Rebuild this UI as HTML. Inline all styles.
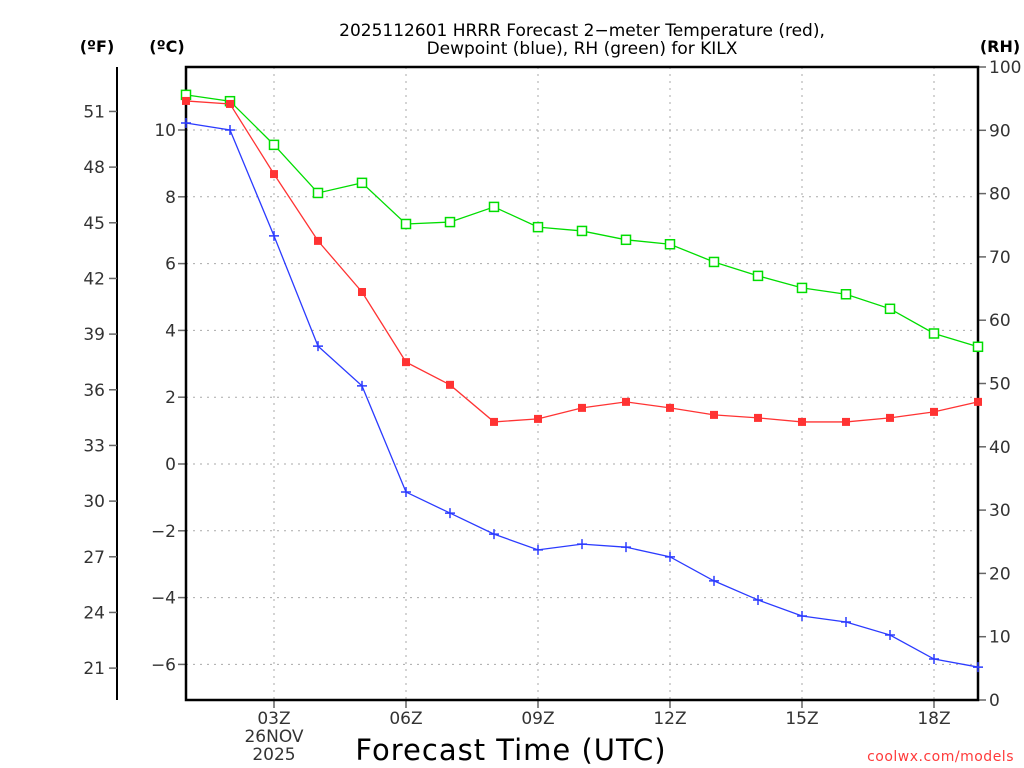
<!DOCTYPE html>
<html><head><meta charset="utf-8"><style>
body{margin:0;background:#fff;}
svg{display:block;font-family:"DejaVu Sans","Liberation Sans",sans-serif;}
</style></head><body>
<svg id="c" width="1024" height="768" viewBox="0 0 1024 768">
<text x="582" y="36" text-anchor="middle" font-size="17" fill="#000">2025112601 HRRR Forecast 2−meter Temperature (red),</text>
<text x="582" y="54" text-anchor="middle" font-size="17" fill="#000">Dewpoint (blue), RH (green) for KILX</text>
<text x="97" y="52" text-anchor="middle" font-size="16" font-weight="bold">(ºF)</text>
<text x="167" y="52" text-anchor="middle" font-size="16" font-weight="bold">(ºC)</text>
<text x="1000" y="52" text-anchor="middle" font-size="16" font-weight="bold">(RH)</text>
<text x="511" y="760" text-anchor="middle" font-size="29" letter-spacing="1">Forecast Time (UTC)</text>
<text x="1014" y="761" text-anchor="end" font-size="14" fill="#ff3b3b" letter-spacing="0.5">coolwx.com/models</text>
<g id="g"></g>
</svg>
<script>
const hours=[1,2,3,4,5,6,7,8,9,10,11,12,13,14,15,16,17,18,19];
const tempC=[10.87,10.78,8.68,6.68,5.15,3.05,2.37,1.26,1.35,1.68,1.86,1.68,1.47,1.38,1.26,1.26,1.38,1.56,1.86];
const dewC=[10.21,10.0,6.83,3.53,2.34,-0.84,-1.47,-2.10,-2.57,-2.40,-2.49,-2.78,-3.50,-4.07,-4.55,-4.73,-5.12,-5.84,-6.08];
const rh=[95.6,94.6,87.7,80.1,81.7,75.2,75.5,77.9,74.7,74.1,72.7,72.0,69.2,67.0,65.1,64.1,61.8,57.9,55.8];
const cTicks=[-6,-4,-2,0,2,4,6,8,10];
const fTicks=[21,24,27,30,33,36,39,42,45,48,51];
const rhTicks=[0,10,20,30,40,50,60,70,80,90,100];
const xTicks=[3,6,9,12,15,18];
const xLabels=["03Z","06Z","09Z","12Z","15Z","18Z"];

const L=186,R=978,T=67,B=700;
const x=h=>L+(h-1)*(R-L)/18;
const yC=c=>464-c*33.4;
const yF=f=>yC((f-32)/1.8);
const yR=r=>B-r*(B-T)/100;
const g=document.getElementById('g');
const NS='http://www.w3.org/2000/svg';
function mk(t,a,p){const e=document.createElementNS(NS,t);for(const k in a)e.setAttribute(k,a[k]);(p||g).appendChild(e);return e;}

cTicks.forEach(c=>{
 const l=mk('line',{x1:L,x2:R,y1:yC(c),y2:yC(c),stroke:'#aaa','stroke-dasharray':'2,5'});
 
 
 mk('line',{x1:L-8,x2:L,y1:yC(c),y2:yC(c),stroke:'#666','stroke-width':1.5});
 const t=mk('text',{x:L-10,y:yC(c)+6,'text-anchor':'end','font-size':17,fill:'#333'});
 t.textContent=c<0?'−'+(-c):c;
 
 
});
xTicks.forEach((h,i)=>{
 const l=mk('line',{x1:x(h),x2:x(h),y1:T,y2:B,stroke:'#aaa','stroke-dasharray':'2,5'});
 
 
 mk('line',{x1:x(h),x2:x(h),y1:B,y2:B+8,stroke:'#666','stroke-width':1.5});
 const t=mk('text',{x:x(h),y:B+24,'text-anchor':'middle','font-size':17,fill:'#333'});
 t.textContent=xLabels[i];
 
 
});
[['26NOV',742],['2025',760]].forEach(d=>{
 const t=mk('text',{x:x(3),y:d[1],'text-anchor':'middle','font-size':17,fill:'#333'});
 t.textContent=d[0];
 
 
});
mk('line',{x1:117,x2:117,y1:T,y2:B,stroke:'#000','stroke-width':2});
fTicks.forEach(f=>{
 mk('line',{x1:109,x2:117,y1:yF(f),y2:yF(f),stroke:'#666','stroke-width':1.5});
 const t=mk('text',{x:105,y:yF(f)+6,'text-anchor':'end','font-size':17,fill:'#333'});
 t.textContent=f;
 
 
});
rhTicks.forEach(r=>{
 mk('line',{x1:R,x2:R+8,y1:yR(r),y2:yR(r),stroke:'#666','stroke-width':1.5});
 const t=mk('text',{x:989,y:yR(r)+6,'font-size':17,fill:'#333'});
 t.textContent=r;
 
 
});
const f=mk('rect',{x:L,y:T,width:R-L,height:B-T,fill:'none',stroke:'#000','stroke-width':2.5});



function series(vals,yf,col,marker,name){
 const pts=vals.map((v,i)=>x(hours[i])+','+yf(v)).join(' ');
 const pl=mk('polyline',{points:pts,fill:'none',stroke:col,'stroke-width':1.3});
 
 
 vals.forEach((v,i)=>{
  const cx=x(hours[i]),cy=yf(v);let m;
  if(marker==='fill')m=mk('rect',{x:cx-4,y:cy-4,width:8,height:8,fill:col});
  else if(marker==='open')m=mk('rect',{x:cx-4.5,y:cy-4.5,width:9,height:9,fill:'#fff',stroke:col,'stroke-width':1.5});
  else m=mk('path',{d:`M${cx-5},${cy}H${cx+5}M${cx},${cy-5}V${cy+5}`,stroke:col,'stroke-width':1.5});
  
  
 });
}
series(rh,yR,'#00dd00','open','rh');
series(tempC,yC,'#ff3333','fill','temperature');
series(dewC,yC,'#2b3bff','plus','dewpoint');
</script>
</body></html>
